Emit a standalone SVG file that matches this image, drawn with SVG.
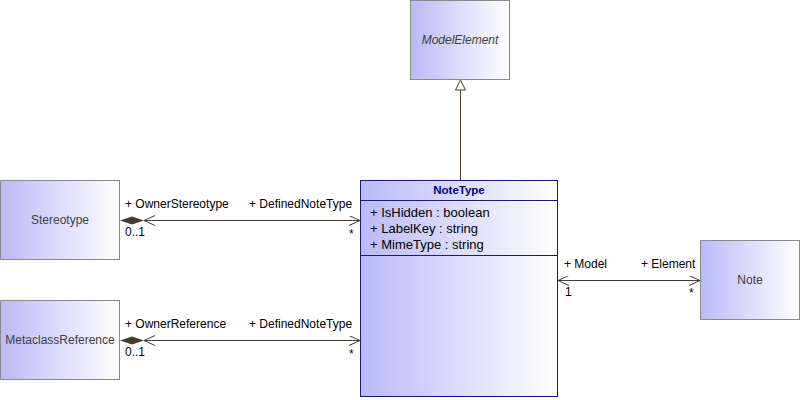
<svg xmlns="http://www.w3.org/2000/svg" width="800" height="400" viewBox="0 0 800 400">
<defs>
<linearGradient id="g" x1="0" y1="0" x2="1" y2="0">
<stop offset="0" stop-color="#babaf8"/>
<stop offset="1" stop-color="#ffffff"/>
</linearGradient>
<marker id="open" viewBox="0 0 12 10" refX="11" refY="5" markerWidth="12" markerHeight="10" markerUnits="userSpaceOnUse" orient="auto-start-reverse">
<path d="M0,0 L11,5 L0,10" fill="none" stroke="#4a3c2c" stroke-width="1"/>
</marker>
</defs>
<style>
.box{fill:url(#g);stroke:#8a8a8a;stroke-width:1}
.cls{fill:url(#g);stroke:#1a1a7a;stroke-width:1}
.name{font-family:"Liberation Sans",Arial,sans-serif;font-size:12px;fill:#404040;text-anchor:middle}
.title{font-family:"Liberation Sans",Arial,sans-serif;font-size:11.5px;font-weight:bold;fill:#00007f;text-anchor:middle}
.attr{font-family:"Liberation Sans",Arial,sans-serif;font-size:13px;fill:#000}
.lbl{font-family:"Liberation Sans",Arial,sans-serif;font-size:12px;fill:#000}
.ln{stroke:#4a3c2c;stroke-width:1;fill:none}
</style>
<g id="ModelElement">
<rect class="box" x="410.5" y="0.5" width="99" height="79"/>
<text class="name" x="460" y="44" font-style="italic">ModelElement</text>
</g>
<g id="NoteType">
<rect class="cls" x="360.5" y="180.5" width="197" height="216"/>
<line x1="360.5" y1="200.5" x2="557.5" y2="200.5" stroke="#1a1a7a"/>
<line x1="360.5" y1="255.5" x2="557.5" y2="255.5" stroke="#1a1a7a"/>
<text class="title" x="459" y="194">NoteType</text>
<text class="attr" x="370" y="217">+ IsHidden : boolean</text>
<text class="attr" x="370" y="233">+ LabelKey : string</text>
<text class="attr" x="370" y="249">+ MimeType : string</text>
</g>
<g id="Stereotype">
<rect class="box" x="0.5" y="180.5" width="119" height="79"/>
<text class="name" x="60" y="224">Stereotype</text>
</g>
<g id="MetaclassReference">
<rect class="box" x="0.5" y="300.5" width="119" height="79"/>
<text class="name" x="60" y="344">MetaclassReference</text>
</g>
<g id="Note">
<rect class="box" x="700.5" y="240.5" width="99" height="79"/>
<text class="name" x="750" y="284">Note</text>
</g>
<g id="connectors">
<line class="ln" x1="460.5" y1="180" x2="460.5" y2="90"/>
<path d="M460.5,80 L455.5,90 L465.5,90 Z" fill="#fff" stroke="#4a3c2c"/>
<line class="ln" x1="144" y1="220.5" x2="360" y2="220.5" marker-end="url(#open)"/>
<path d="M120,220.5 L132,216.5 L144,220.5 L132,224.5 Z" fill="#4a3c2c"/>
<path d="M155,215.5 L144,220.5 L155,225.5" class="ln"/>
<text class="lbl" x="125" y="208">+ OwnerStereotype</text>
<text class="lbl" x="249" y="208">+ DefinedNoteType</text>
<text class="lbl" x="125" y="236">0..1</text>
<text class="lbl" x="349" y="238">*</text>
<line class="ln" x1="144" y1="340.5" x2="360" y2="340.5" marker-end="url(#open)"/>
<path d="M120,340.5 L132,336.5 L144,340.5 L132,344.5 Z" fill="#4a3c2c"/>
<path d="M155,335.5 L144,340.5 L155,345.5" class="ln"/>
<text class="lbl" x="125" y="328">+ OwnerReference</text>
<text class="lbl" x="249" y="328">+ DefinedNoteType</text>
<text class="lbl" x="125" y="356">0..1</text>
<text class="lbl" x="349" y="358">*</text>
<line class="ln" x1="558" y1="280.5" x2="700" y2="280.5" marker-start="url(#open)" marker-end="url(#open)"/>
<text class="lbl" x="564" y="268">+ Model</text>
<text class="lbl" x="641" y="268">+ Element</text>
<text class="lbl" x="565" y="296">1</text>
<text class="lbl" x="689" y="297">*</text>
</g>
</svg>
